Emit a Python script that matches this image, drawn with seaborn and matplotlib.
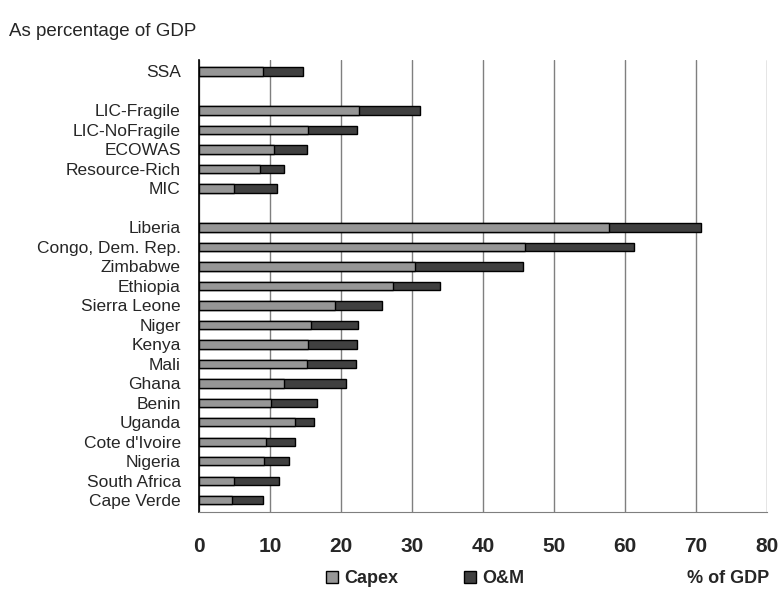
import pandas as pd
import matplotlib.pyplot as plt
import seaborn as sns

# data (% of GDP)
groups = ["SSA", "LIC-Fragile", "LIC-NoFragile", "ECOWAS", "Resource-Rich", "MIC"]
group_capex = [9.1, 22.6, 15.4, 10.6, 8.6, 4.9]
group_total = [14.6, 31.2, 22.3, 15.3, 12.0, 11.0]

countries = ["Liberia", "Congo, Dem. Rep.", "Zimbabwe", "Ethiopia", "Sierra Leone",
             "Niger", "Kenya", "Mali", "Ghana", "Benin", "Uganda", "Cote d'Ivoire",
             "Nigeria", "South Africa", "Cape Verde"]
country_capex = [57.8, 45.9, 30.5, 27.4, 19.2, 15.8, 15.4, 15.3, 12.0, 10.2,
                 13.6, 9.4, 9.2, 5.0, 4.7]
country_total = [70.7, 61.3, 45.7, 34.0, 25.8, 22.4, 22.3, 22.1, 20.7, 16.6,
                 16.2, 13.6, 12.7, 11.3, 9.0]

capex_color = "#969696"
om_color = "#404040"

df = pd.DataFrame({
    "name": groups + countries,
    "capex": group_capex + country_capex,
    "total": group_total + country_total,
})
# spacer rows give the gaps between SSA, the groups and the countries
order = [groups[0], " "] + groups[1:] + ["  "] + countries

sns.set_style("white")
plt.rcParams["font.family"] = ["Liberation Sans Narrow", "Liberation Sans", "DejaVu Sans"]

fig = plt.figure(figsize=(7.8, 5.92), dpi=100)
ax = fig.add_axes([0.255, 0.135, 0.728, 0.764])

# total drawn first (dark), capex on top (light) -> stacked look
sns.barplot(data=df, x="total", y="name", order=order, color=om_color,
            edgecolor="black", linewidth=1, width=0.42, saturation=1, ax=ax, zorder=3)
sns.barplot(data=df, x="capex", y="name", order=order, color=capex_color,
            edgecolor="black", linewidth=1, width=0.42, saturation=1, ax=ax, zorder=4)

ax.set_xlim(0, 80)
ax.set_xticks(range(0, 81, 10))
ax.set_ylim(len(order) - 0.4, -0.6)
ax.set_xlabel("")
ax.set_ylabel("")
ax.grid(axis="x", color="#7f7f7f", linewidth=1, zorder=0)
ax.tick_params(axis="x", length=4, color="#7f7f7f", labelsize=15, pad=14)
ax.tick_params(axis="y", length=0, labelsize=12.5, pad=13)
for lbl in ax.get_xticklabels():
    lbl.set_fontweight("bold")

for side in ["top", "right"]:
    ax.spines[side].set_visible(False)
ax.spines["left"].set_color("black")
ax.spines["left"].set_linewidth(1.2)
ax.spines["bottom"].set_color("#7f7f7f")

fig.text(0.012, 0.947, "As percentage of GDP", fontsize=13.5, va="center")
fig.text(0.933, 0.022, "% of GDP", fontsize=13, fontweight="bold", ha="center", va="center")

handles = [plt.Rectangle((0, 0), 1, 1, facecolor=capex_color, edgecolor="black"),
           plt.Rectangle((0, 0), 1, 1, facecolor=om_color, edgecolor="black")]
leg = fig.legend(handles, ["Capex", "O&M"], loc="center", bbox_to_anchor=(0.545, 0.022),
                 ncol=2, frameon=False, handlelength=0.7, handleheight=0.7,
                 handletextpad=0.35, columnspacing=3.6, borderpad=0.1,
                 prop={"size": 13, "weight": "bold"})

fig.savefig("out.png", dpi=100)
